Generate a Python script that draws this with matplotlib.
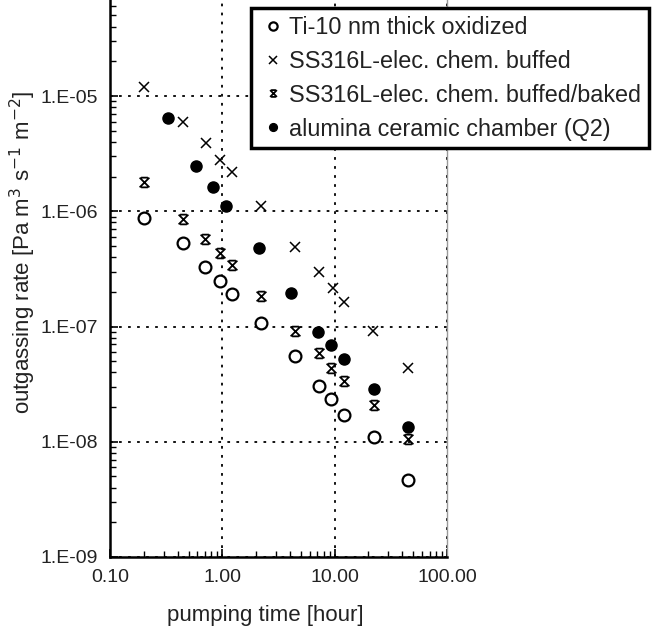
import matplotlib as mpl
mpl.use('Agg')
import matplotlib.pyplot as plt
from matplotlib import ticker
from matplotlib.path import Path
import numpy as np

plt.rcParams['font.family'] = ['Liberation Sans', 'DejaVu Sans']

# pumping time [hour] and outgassing rate [Pa m3 s-1 m-2]
ti_time = [0.20, 0.45, 0.70, 0.96, 1.23, 2.19, 4.45, 7.3, 9.3, 12.2, 22.2, 44.7]
ti_rate = [8.7e-7, 5.3e-7, 3.3e-7, 2.5e-7, 1.92e-7, 1.08e-7, 5.6e-8, 3.05e-8, 2.36e-8, 1.71e-8, 1.11e-8, 4.7e-9]

ss_time = [0.20, 0.45, 0.71, 0.96, 1.23, 2.19, 4.45, 7.2, 9.6, 12.2, 21.9, 44.7]
ss_rate = [1.2e-5, 6.0e-6, 3.9e-6, 2.8e-6, 2.2e-6, 1.11e-6, 4.9e-7, 2.96e-7, 2.17e-7, 1.62e-7, 9.2e-8, 4.35e-8]

baked_time = [0.20, 0.45, 0.70, 0.96, 1.23, 2.19, 4.45, 7.3, 9.3, 12.2, 22.2, 44.7]
baked_rate = [1.78e-6, 8.6e-7, 5.7e-7, 4.3e-7, 3.4e-7, 1.85e-7, 9.2e-8, 5.9e-8, 4.35e-8, 3.37e-8, 2.09e-8, 1.05e-8]

alu_time = [0.327, 0.58, 0.834, 1.08, 2.13, 4.07, 7.05, 9.3, 12.2, 22.2, 44.7]
alu_rate = [6.5e-6, 2.47e-6, 1.63e-6, 1.11e-6, 4.83e-7, 1.95e-7, 9.0e-8, 6.9e-8, 5.2e-8, 2.86e-8, 1.33e-8]

labels = ["Ti-10 nm thick oxidized", "SS316L-elec. chem. buffed",
          "SS316L-elec. chem. buffed/baked", "alumina ceramic chamber (Q2)"]

# x with bars on top and bottom
star = Path([(-1, -1), (1, 1), (-1, 1), (1, -1), (-0.7, 1), (0.7, 1), (-0.7, -1), (0.7, -1)],
            [Path.MOVETO, Path.LINETO, Path.MOVETO, Path.LINETO,
             Path.MOVETO, Path.LINETO, Path.MOVETO, Path.LINETO])

W, H = 658, 629
fig = plt.figure(figsize=(W / 100, H / 100), dpi=100)
ax = fig.add_axes([110 / W, 72 / H, 337 / W, 557 / H])

ax.plot(ti_time, ti_rate, 'o', ms=8.5, mfc='white', mec='black', mew=1.6, ls='none', label=labels[0])
ax.plot(ss_time, ss_rate, 'x', ms=7.5, color='black', mew=1.1, ls='none', label=labels[1])
ax.plot(baked_time, baked_rate, marker=star, ms=7, mfc='none', mec='black', mew=1.3, ls='none', label=labels[2])
ax.plot(alu_time, alu_rate, 'o', ms=8, color='black', ls='none', label=labels[3])

ax.set_xscale('log')
ax.set_yscale('log')
ax.set_xlim(0.1, 100)
ax.set_ylim(1e-9, 10 ** -4.167)

ax.xaxis.set_major_locator(ticker.FixedLocator([0.1, 1, 10, 100]))
ax.xaxis.set_major_formatter(ticker.FuncFormatter(lambda v, _: f"{v:.2f}"))
ax.yaxis.set_major_locator(ticker.FixedLocator([1e-9, 1e-8, 1e-7, 1e-6, 1e-5]))
ax.yaxis.set_major_formatter(ticker.FuncFormatter(lambda v, _: "1.E-%02d" % round(-np.log10(v))))
ax.xaxis.set_minor_locator(ticker.LogLocator(base=10, subs=np.arange(2, 10)))
ax.yaxis.set_minor_locator(ticker.LogLocator(base=10, subs=np.arange(2, 10)))
ax.xaxis.set_minor_formatter(ticker.NullFormatter())
ax.yaxis.set_minor_formatter(ticker.NullFormatter())

ax.tick_params(which='both', direction='in', top=False, right=False, labelsize=14, labelcolor='#222222')
ax.tick_params(which='major', length=6, width=1.2, pad=9)
ax.tick_params(which='minor', length=4, width=1)

ax.grid(True, which='major', color='black', linestyle=(0, (1.5, 3.5)), linewidth=1.3)
ax.set_axisbelow(True)

ax.spines['top'].set_visible(False)
ax.spines['left'].set_linewidth(1.8)
ax.spines['bottom'].set_linewidth(1.8)
ax.spines['right'].set_color('#999999')
ax.spines['right'].set_linewidth(1)

fig.text(23 / W, 1 - 252 / H, "outgassing rate [Pa m$^3$ s$^{-1}$ m$^{-2}$]", rotation=90,
         ha='center', va='center', fontsize=16, color='#222222')
fig.text(265 / W, 1 - 616 / H, "pumping time [hour]", ha='center', va='center',
         fontsize=16, color='#222222')

leg = fig.legend(loc='upper left', bbox_to_anchor=(251 / W, 1 - 8 / H), bbox_transform=fig.transFigure,
                 fontsize=16.8, markerscale=0.7, handlelength=1.2, handletextpad=0.1,
                 labelspacing=0.47, borderpad=0.33, borderaxespad=0, fancybox=False, framealpha=1)
leg.get_frame().set_edgecolor('black')
leg.get_frame().set_linewidth(2.5)
for t in leg.get_texts():
    t.set_color('#222222')

fig.savefig("out.png", dpi=100)
